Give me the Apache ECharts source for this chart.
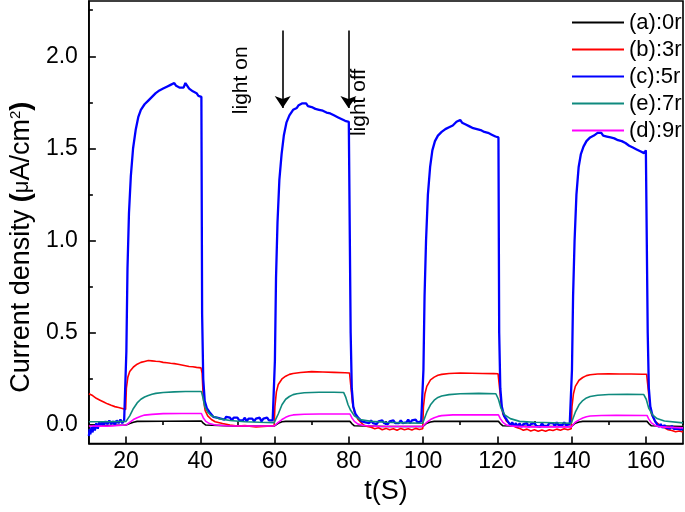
<!DOCTYPE html>
<html><head><meta charset="utf-8">
<script src="https://cdn.jsdelivr.net/npm/echarts@6/dist/echarts.min.js"></script>
<style>html,body{margin:0;padding:0;background:#fff}#c{width:685px;height:512px}</style>
</head><body><div id="c"></div>
<script>
// ---- data ----
const seriesNames = ['(a):0r','(b):3r','(c):5r','(e):7r','(d):9r'];
const seriesColors = ['#000000','#ff0000','#0000ff','#0f8a7e','#ff00ff'];
const xMajorTicks = [20,40,60,80,100,120,140,160];
const xMinorTicks = [10,30,50,70,90,110,130,150,170];
const yMajorTicks = [0,0.5,1.0,1.5,2.0];
const yMinorTicks = [0.25,0.75,1.25,1.75,2.25];

const dataA = [[10,0.0],[15,-0.002],[20,0.0],[21,0.008],[22,0.015],[23,0.02],[30,0.021],[40.3,0.022],[40.8,0.01],[41.5,0.0],[42,-0.005],[50,-0.006],[59.9,-0.005],
 [60.2,0.0],[61,0.01],[62,0.018],[63,0.02],[70,0.021],[80.3,0.02],[80.8,0.008],[81.5,-0.004],[82,-0.008],[90,-0.008],[99.9,-0.008],
 [100.2,0.0],[101,0.01],[102,0.017],[103,0.02],[110,0.021],[120.3,0.02],[120.8,0.008],[121.5,-0.004],[122,-0.008],[130,-0.008],[139.9,-0.008],
 [140.2,0.0],[141,0.01],[142,0.017],[143,0.02],[150,0.02],[160.3,0.02],[160.8,0.008],[161.5,-0.004],[162,-0.008],[170,-0.008]];

const dataB = [[10,0.17],[11,0.16],[12,0.145],[13,0.135],[14,0.125],[15,0.115],[16,0.107],[17,0.1],[18,0.095],[19,0.09],[19.9,0.085],
 [20.1,0.2],[20.5,0.26],[21,0.29],[22,0.315],[23,0.33],[24,0.34],[25,0.345],[26,0.35],[27,0.348],[28,0.346],[29,0.345],[30,0.34],[31,0.338],[32,0.335],[33,0.333],[34,0.33],[35,0.326],[36,0.322],[37,0.318],[38,0.316],[39,0.313],[40.2,0.31],
 [40.5,0.28],[40.8,0.15],[41.3,0.08],[42,0.05],[43,0.03],[44,0.018],[46,0.008],[48,0.0],[50,-0.005],[52,-0.003],[55,-0.01],[58,-0.006],[59.9,-0.004],
 [60.1,0.1],[60.5,0.18],[61,0.22],[62,0.25],[63,0.265],[64,0.275],[65,0.28],[67,0.285],[70,0.29],[73,0.288],[76,0.286],[79,0.284],[80.2,0.282],
 [80.6,0.2],[81,0.12],[81.5,0.07],[82.5,0.03],[84,0.0],[85,-0.008],[86,-0.012],[87,-0.02],[88,-0.015],[89,-0.025],[90,-0.018],[91,-0.026],[92,-0.02],[93,-0.028],[94,-0.018],[95,-0.025],[96,-0.02],[97,-0.027],[98,-0.018],[99,-0.024],[99.9,-0.02],
 [100.1,0.1],[100.5,0.17],[101,0.21],[102,0.245],[103,0.26],[104,0.27],[105,0.275],[107,0.28],[110,0.282],[113,0.281],[116,0.28],[119,0.279],[120.2,0.278],
 [120.6,0.2],[121,0.12],[121.5,0.06],[122.5,0.02],[124,0.0],[125,-0.012],[126,-0.018],[127,-0.028],[128,-0.022],[129,-0.032],[130,-0.026],[131,-0.034],[132,-0.027],[133,-0.033],[134,-0.025],[135,-0.03],[136,-0.022],[137,-0.028],[138,-0.02],[139,-0.026],[139.9,-0.02],
 [140.1,0.1],[140.5,0.17],[141,0.21],[142,0.243],[143,0.258],[144,0.268],[145,0.273],[147,0.277],[150,0.278],[153,0.277],[156,0.277],[159,0.276],[160.2,0.276],
 [160.6,0.2],[161,0.12],[161.5,0.06],[162.5,0.02],[164,-0.005],[165,-0.015],[166,-0.025],[167,-0.03],[168,-0.036],[169,-0.032],[170,-0.038]];

const dataC = [[10,-0.06],[10.2,-0.02],[10.4,-0.05],[10.7,-0.01],[11,-0.04],[11.3,0.0],[11.6,-0.03],[12,0.01],[12.4,-0.02],[12.8,0.015],[13.2,-0.005],[13.6,0.02],[14,0.0],[14.5,0.02],[15,0.005],[15.5,0.025],[16,0.005],[16.5,0.02],[17,0.0],[17.5,0.025],[18,0.01],[18.5,0.03],[19,0.01],[19.5,0.025],[19.9,0.015],
 [20.1,0.4],[20.4,0.85],[20.8,1.15],[21.3,1.35],[21.9,1.5],[22.6,1.6],[23.3,1.67],[24,1.71],[25,1.74],[26,1.76],[27,1.78],[27.5,1.775],[28,1.8],[28.5,1.79],[29,1.815],[29.5,1.805],[30,1.825],[30.5,1.815],[31,1.835],[31.5,1.825],[32,1.845],[32.5,1.835],[33,1.855],[33.5,1.84],[34,1.85],[34.5,1.83],[35,1.84],[35.5,1.83],[36,1.855],[36.5,1.84],[37,1.825],[37.5,1.83],[38,1.81],[38.5,1.8],[39,1.8],[39.5,1.785],[40,1.79],[40.3,1.78],
 [40.5,0.6],[40.8,0.25],[41.2,0.13],[41.8,0.09],[42.5,0.07],[43,0.06],[43.5,0.045],[44,0.055],[44.5,0.04],[45,0.05],[45.5,0.035],[46,0.045],[46.5,0.03],[47,0.045],[47.5,0.035],[48,0.04],[48.5,0.025],[49,0.04],[49.5,0.03],[50,0.04],[50.5,0.025],[51,0.035],[51.5,0.025],[52,0.04],[52.5,0.02],[53,0.035],[53.5,0.025],[54,0.035],[54.5,0.02],[55,0.035],[55.5,0.025],[56,0.04],[56.5,0.02],[57,0.035],[57.5,0.025],[58,0.04],[58.5,0.025],[59,0.035],[59.5,0.025],[59.9,0.03],
 [60.1,0.35],[60.4,0.8],[60.8,1.1],[61.3,1.33],[61.9,1.47],[62.5,1.57],[63.2,1.64],[64,1.68],[65,1.71],[66,1.72],[66.5,1.735],[67,1.73],[67.5,1.745],[68,1.735],[68.5,1.745],[69,1.73],[69.5,1.74],[70,1.725],[70.5,1.73],[71,1.715],[71.5,1.725],[72,1.71],[72.5,1.72],[73,1.705],[73.5,1.71],[74,1.695],[74.5,1.705],[75,1.69],[75.5,1.695],[76,1.68],[76.5,1.69],[77,1.67],[77.5,1.68],[78,1.66],[78.5,1.67],[79,1.65],[79.5,1.66],[80,1.645],[80.3,1.65],
 [80.5,0.5],[80.8,0.2],[81.2,0.1],[81.8,0.06],[82.5,0.04],[83,0.035],[83.5,0.02],[84,0.03],[84.5,0.015],[85,0.025],[85.5,0.01],[86,0.025],[86.5,0.01],[87,0.02],[87.5,0.005],[88,0.02],[88.5,0.01],[89,0.025],[89.5,0.01],[90,0.02],[90.5,0.005],[91,0.02],[91.5,0.01],[92,0.025],[92.5,0.01],[93,0.02],[93.5,0.01],[94,0.025],[94.5,0.01],[95,0.02],[95.5,0.015],[96,0.03],[96.5,0.01],[97,0.025],[97.5,0.015],[98,0.03],[98.5,0.015],[99,0.025],[99.5,0.02],[99.9,0.025],
 [100.1,0.3],[100.4,0.7],[100.8,1.0],[101.3,1.25],[101.9,1.4],[102.5,1.49],[103.2,1.54],[104,1.57],[105,1.59],[105.5,1.585],[106,1.605],[106.5,1.6],[107,1.615],[107.5,1.61],[108,1.625],[108.5,1.62],[109,1.645],[109.5,1.635],[110,1.655],[110.5,1.64],[111,1.645],[111.5,1.63],[112,1.635],[112.5,1.62],[113,1.625],[113.5,1.61],[114,1.62],[114.5,1.605],[115,1.615],[115.5,1.6],[116,1.605],[116.5,1.59],[117,1.6],[117.5,1.585],[118,1.59],[118.5,1.575],[119,1.58],[119.5,1.565],[120,1.57],[120.3,1.56],
 [120.5,0.5],[120.8,0.2],[121.2,0.1],[121.8,0.05],[122.5,0.03],[123,0.015],[123.5,0.0],[124,0.015],[124.5,-0.005],[125,0.01],[125.5,-0.01],[126,0.01],[126.5,-0.01],[127,0.005],[127.5,-0.005],[128,0.01],[128.5,-0.01],[129,0.005],[129.5,-0.005],[130,0.01],[130.5,-0.005],[131,0.005],[131.5,-0.01],[132,0.01],[132.5,-0.005],[133,0.005],[133.5,-0.005],[134,0.01],[134.5,0.0],[135,0.01],[135.5,-0.005],[136,0.015],[136.5,0.0],[137,0.01],[137.5,0.0],[138,0.015],[138.5,0.0],[139,0.01],[139.5,0.005],[139.9,0.01],
 [140.1,0.3],[140.4,0.7],[140.8,1.0],[141.3,1.25],[141.9,1.4],[142.5,1.47],[143.2,1.51],[144,1.54],[145,1.56],[145.5,1.555],[146,1.57],[146.5,1.565],[147,1.585],[147.5,1.575],[148,1.585],[148.5,1.57],[149,1.575],[149.5,1.565],[150,1.575],[150.5,1.56],[151,1.565],[151.5,1.555],[152,1.56],[152.5,1.545],[153,1.555],[153.5,1.54],[154,1.545],[154.5,1.53],[155,1.53],[155.5,1.515],[156,1.52],[156.5,1.505],[157,1.51],[157.5,1.495],[158,1.5],[158.5,1.485],[159,1.495],[159.5,1.475],[160,1.49],[160.3,1.48],
 [160.5,0.5],[160.8,0.2],[161.2,0.1],[161.8,0.05],[162.5,0.02],[163,0.005],[163.5,-0.01],[164,0.005],[164.5,-0.015],[165,0.0],[165.5,-0.015],[166,-0.005],[166.5,-0.02],[167,-0.005],[167.5,-0.02],[168,-0.01],[168.5,-0.02],[169,-0.01],[169.5,-0.025],[170,-0.015]];

const dataE = [[10,0.018],[15,0.018],[20,0.02],[21,0.05],[22,0.09],[23,0.12],[24,0.14],[25,0.152],[26,0.16],[27,0.167],[28,0.172],[30,0.177],[33,0.18],[36,0.182],[39,0.182],[40.3,0.182],
 [40.7,0.15],[41.2,0.1],[42,0.07],[43,0.05],[45,0.035],[48,0.025],[52,0.018],[56,0.015],[59.9,0.013],
 [60.2,0.015],[61,0.06],[62,0.11],[63,0.14],[64,0.155],[65,0.165],[66,0.17],[68,0.175],[72,0.178],[76,0.178],[78.6,0.177],[79.2,0.15],[79.8,0.11],[80.5,0.08],[81.5,0.05],[83,0.03],[86,0.02],[90,0.015],[95,0.012],[99.9,0.01],
 [100.2,0.015],[101,0.07],[102,0.11],[103,0.135],[104,0.15],[105,0.158],[107,0.165],[110,0.17],[115,0.172],[119.6,0.17],[120.3,0.14],[121,0.09],[122,0.055],[123.5,0.035],[126,0.02],[130,0.015],[139.9,0.01],
 [140.2,0.015],[141,0.07],[142,0.11],[143,0.133],[144,0.147],[145,0.155],[147,0.162],[150,0.166],[155,0.167],[159.4,0.166],[160.1,0.14],[160.8,0.09],[161.8,0.055],[163,0.035],[165,0.022],[170,0.012]];

const dataD = [[10,-0.005],[15,-0.006],[20,0.0],[21,0.015],[22,0.03],[23,0.04],[24,0.048],[25,0.054],[27,0.058],[30,0.062],[35,0.063],[40.3,0.063],
 [40.8,0.04],[41.5,0.02],[42.5,0.008],[44,0.0],[48,-0.005],[59.9,-0.005],
 [60.2,0.0],[61,0.015],[62,0.03],[63,0.042],[64,0.05],[65,0.055],[68,0.059],[72,0.06],[80.3,0.06],[80.8,0.04],[81.5,0.02],[82.5,0.005],[84,-0.002],[88,-0.008],[99.9,-0.008],
 [100.2,0.0],[101,0.015],[102,0.03],[103,0.04],[104,0.047],[105,0.051],[108,0.055],[112,0.056],[120.3,0.055],[120.8,0.035],[121.5,0.015],[122.5,0.0],[124,-0.006],[128,-0.01],[139.9,-0.01],
 [140.2,0.0],[141,0.015],[142,0.028],[143,0.038],[144,0.045],[145,0.049],[148,0.052],[152,0.053],[160.3,0.052],[160.8,0.032],[161.5,0.012],[162.5,-0.002],[164,-0.01],[170,-0.015]];

const seriesData = [dataA, dataB, dataC, dataE, dataD];

// annotations: arrows (time, top value, tip value) and rotated texts
const arrowTimes = [62.2, 79.9];
const arrowTop = 2.14;
const arrowTip = 1.72;
const noteTexts = ['light on', 'light off'];
const noteTimes = [51.1, 82.9];
const noteValues = [1.87, 1.75];

// ---- chart ----
const FONT = '"Liberation Sans", Arial, sans-serif';
const chart = echarts.init(document.getElementById('c'), null, {renderer: 'canvas'});

const series = seriesNames.map((n, i) => ({
  name: n, type: 'line', data: seriesData[i], symbol: 'none', showSymbol: false,
  xAxisIndex: 0, yAxisIndex: 0,
  lineStyle: {color: seriesColors[i], width: i === 2 ? 2.3 : 1.6},
  itemStyle: {color: seriesColors[i]},
  emphasis: {disabled: true}, animation: false, z: 2 + i
}));
series[0].markLine = {
  silent: true, symbol: ['none', 'arrow'], symbolSize: 12,
  lineStyle: {color: '#000', width: 1.6, type: 'solid'},
  itemStyle: {color: '#000'},
  label: {show: false}, emphasis: {disabled: true}, animation: false,
  data: arrowTimes.map(t => [{coord: [t, arrowTop]}, {coord: [t, arrowTip]}])
};

const axisBase = {
  axisLine: {show: true, onZero: false, lineStyle: {color: '#000', width: 1.6}},
  splitLine: {show: false}
};

chart.setOption({
  animation: false,
  backgroundColor: '#fff',
  grid: {left: 88, right: 2, top: 1, bottom: 68.5, show: true, borderColor: '#000', borderWidth: 1.6, backgroundColor: 'transparent'},
  legend: {
    orient: 'vertical', left: 567, top: 4, itemWidth: 52, itemHeight: 2, itemGap: 0,
    icon: 'rect',
    textStyle: {fontFamily: FONT, fontSize: 22, color: '#000', lineHeight: 27},
    data: seriesNames, selectedMode: false
  },
  xAxis: [
    Object.assign({}, axisBase, {
      type: 'value', min: 10, max: 170, position: 'bottom',
      name: 't(S)', nameLocation: 'middle', nameGap: 35,
      nameTextStyle: {fontFamily: FONT, fontSize: 27, color: '#000'},
      axisTick: {show: true, inside: true, length: 7, lineStyle: {color: '#000', width: 1.6}, customValues: xMajorTicks},
      axisLabel: {show: true, margin: 7, fontFamily: FONT, fontSize: 23, color: '#000', customValues: xMajorTicks}
    }),
    Object.assign({}, axisBase, {
      type: 'value', min: 10, max: 170, position: 'bottom', axisLine: {show: false},
      axisTick: {show: true, inside: true, length: 4, lineStyle: {color: '#000', width: 1.6}, customValues: xMinorTicks},
      axisLabel: {show: false}
    })
  ],
  yAxis: [
    Object.assign({}, axisBase, {
      type: 'value', min: -0.1, max: 2.3, position: 'left',
      name: '{n|Current density }{b|(}{m|μ}{n|A/cm}{s|2}{b|)}',
      nameLocation: 'middle', nameGap: 39, nameRotate: 90,
      nameTextStyle: {fontFamily: FONT, fontSize: 27, color: '#000', padding: [0, 50, 0, 0], rich: {
        n: {fontFamily: FONT, fontSize: 27, color: '#000'},
        b: {fontFamily: FONT, fontSize: 27, fontWeight: 'bold', color: '#000'},
        m: {fontFamily: FONT, fontSize: 22, color: '#000'},
        s: {fontFamily: FONT, fontSize: 15, color: '#000', verticalAlign: 'top', padding: [0, 0, 12, 0]}
      }},
      axisTick: {show: true, inside: true, length: 7, lineStyle: {color: '#000', width: 1.6}, customValues: yMajorTicks},
      axisLabel: {show: true, margin: 11, fontFamily: FONT, fontSize: 23, color: '#000', customValues: yMajorTicks,
        formatter: v => v.toFixed(1)}
    }),
    Object.assign({}, axisBase, {
      type: 'value', min: -0.1, max: 2.3, position: 'left', axisLine: {show: false},
      axisTick: {show: true, inside: true, length: 4, lineStyle: {color: '#000', width: 1.6}, customValues: yMinorTicks},
      axisLabel: {show: false}
    })
  ],
  series: series
});

const notes = noteTexts.map((txt, i) => {
  const p = chart.convertToPixel({xAxisIndex: 0, yAxisIndex: 0}, [noteTimes[i], noteValues[i]]);
  return {
    type: 'text', x: p[0], y: p[1], rotation: Math.PI / 2, silent: true,
    style: {text: txt, fill: '#000', font: '21px ' + FONT, textAlign: 'center', textVerticalAlign: 'middle'}
  };
});
chart.setOption({graphic: notes});
</script>
</body></html>
